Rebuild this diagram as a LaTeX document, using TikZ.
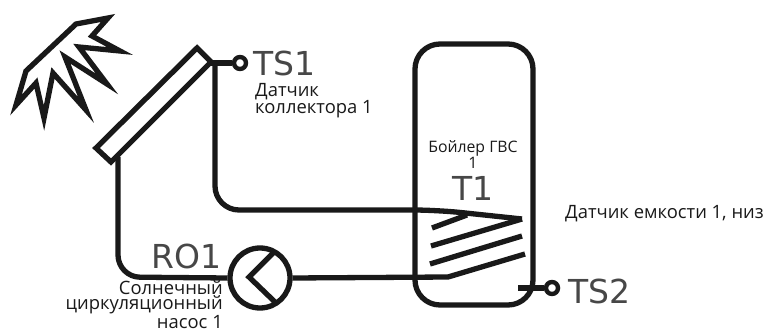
\documentclass[tikz,border=0pt]{standalone}
\usepackage{fontspec}
\setmainfont{Open Sans}
\newfontfamily\bigfont{DejaVu Sans}
\tikzset{
 x=1pt,y=-1pt,
 pipe/.style={line width=5.3pt,draw=black!90,line join=round},
 big/.style={inner sep=0pt,anchor=base west,font=\bigfont\fontsize{33}{33}\selectfont,text=black!72},
 small/.style={inner sep=0pt,font=\fontsize{18.4}{16}\selectfont,text=black!90},
 sens/.style={circle,draw=black!90,line width=4.4pt,fill=white,minimum size=12pt,inner sep=0pt},
}
\begin{document}
\begin{tikzpicture}
\useasboundingbox (0,0) rectangle (770,331);
% sun
\draw[pipe,line join=miter,miter limit=10] (108,18)--(76,24)--(26,71)--(16,105)--(36,83)--(44,118)--(53,73)--(86,110)--(65,57)--(107,84)--(79,47)--(120,51)--(92,36)--cycle;
% collector
\draw[pipe,line join=miter] (197,48)--(211,62)--(111,162)--(96,148)--cycle;
\coordinate (colS) at (208,63);
\coordinate (colP) at (215,65);
\coordinate (colR) at (118,157);
\node[sens] (ts1) at (240,63) {};
\draw[pipe] (colS) -- (ts1);
% tank
\node[draw=black!90,line width=5.3pt,rounded corners=25pt,minimum width=118pt,minimum height=261pt,inner sep=0pt] (tank) at (474,174.5) {};
% pump
\node[circle,draw=black!90,line width=5.3pt,minimum size=60pt,inner sep=0pt] (pump) at (260,278) {};
\draw[pipe,line join=miter] (273,253)--(249,277)--(275,302);
% pipes
\coordinate (tip) at (522,219);
\draw[pipe,rounded corners=24pt] (colP) -- (215,210) -- (437,210) -- (tip);
\coordinate (s1a) at (432,228); \coordinate (s1b) at (467,215);
\draw[pipe] (s1a) -- (s1b);
\coordinate (c1a) at (431,246);
\draw[pipe] (c1a) -- (tip);
\coordinate (c2a) at (430,264); \coordinate (c2b) at (522,236);
\draw[pipe] (c2a) -- (c2b);
\draw[pipe,rounded corners=22pt] (colR) -- (118,277) -- (pump.west);
\coordinate (c3b) at (525,254);
\draw[pipe] (pump.east) -- (448,277) -- (c3b);
% TS2
\node[sens] (ts2) at (552,288) {};
\coordinate (tankS) at (518,288);
\draw[pipe] (tankS) -- (ts2);
% labels
\node[big] (lts1) at (253,76) {TS1};
\node[big] (lts2) at (568,303) {TS2};
\node[big] (lt1) at (452,200) {T1};
\node[big] (lro1) at (151,268) {RO1};
\node[small,anchor=north west,align=left] (ld1) at (255,83) {Датчик\\коллектора 1};
\node[small,anchor=north,align=center,font=\fontsize{15.8}{15}\selectfont] (ld2) at (473,140) {Бойлер ГВС\\1};
\node[small,anchor=base west] (ld3) at (565,218) {Датчик емкости 1, низ};
\node[small,anchor=north east,align=right,font=\fontsize{18.4}{15.5}\selectfont] (ld4) at (223,280) {Солнечный\\циркуляционный\\насос 1};
\end{tikzpicture}
\end{document}
